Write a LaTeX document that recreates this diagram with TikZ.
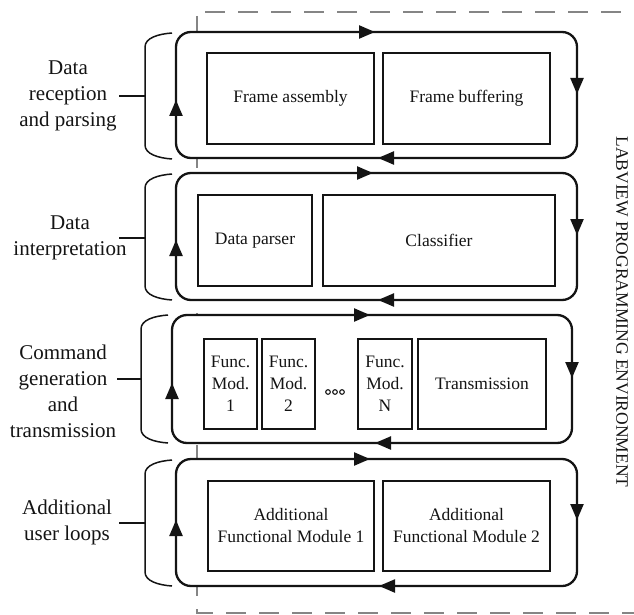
\documentclass[tikz,border=0pt]{standalone}
\usepackage{fontspec}
\setmainfont{Liberation Serif}
\usetikzlibrary{arrows.meta}
\definecolor{ink}{HTML}{141414}
\definecolor{dashgrey}{HTML}{858585}
\tikzset{
  loopbox/.style={draw=ink, line width=2.3pt, fill=white, rounded corners=15pt,
    inner sep=0pt, outer sep=0pt},
  modbox/.style={draw=ink, line width=2.5pt, fill=white, inner sep=0pt,
    outer sep=0pt, text=ink, font=\fontsize{17.5}{22}\selectfont, align=center},
  looparrow/.style={draw=ink, line width=2.3pt, -{Triangle[length=16pt,width=13pt]}},
  bracket/.style={draw=ink, line width=1.5pt},
  sidelabel/.style={text=ink, font=\fontsize{21}{26}\selectfont, align=center, inner sep=0pt},
  envline/.style={draw=dashgrey, line width=2pt, dash pattern=on 20pt off 13pt},
}
\begin{document}
\begin{tikzpicture}[x=1pt, y=-1pt]
\useasboundingbox (0,0) rectangle (634,615);

% programming environment frame (open to the right)
\draw[envline, dash phase=25pt] (197,12) -- (640,12);
\draw[envline, dash phase=29pt] (197,12) -- (197,590);
\draw[envline, dash phase=14pt] (197,590) -- (197,613) -- (640,613);

% the four loops
\node[loopbox, minimum width=401pt, minimum height=126pt] (loopA) at (376.5,95) {};
\node[loopbox, minimum width=401pt, minimum height=127pt] (loopB) at (376.5,236.5) {};
\node[loopbox, minimum width=400pt, minimum height=128pt] (loopC) at (372,379) {};
\node[loopbox, minimum width=401pt, minimum height=127pt] (loopD) at (376.5,522.5) {};

% loop direction arrows (clockwise)
\draw[looparrow] (358,32) -- (375,32);
\draw[looparrow] (577,77) -- (577,94);
\draw[looparrow] (395,158) -- (378,158);
\draw[looparrow] (176,117) -- (176,100);

\draw[looparrow] (356,173) -- (373,173);
\draw[looparrow] (577,218) -- (577,235);
\draw[looparrow] (395,300) -- (378,300);
\draw[looparrow] (176,257) -- (176,240);

\draw[looparrow] (353,315) -- (370,315);
\draw[looparrow] (572,361) -- (572,378);
\draw[looparrow] (392,443) -- (375,443);
\draw[looparrow] (172,400) -- (172,383);

\draw[looparrow] (353,459) -- (370,459);
\draw[looparrow] (577,503) -- (577,520);
\draw[looparrow] (396,586) -- (379,586);
\draw[looparrow] (176,537) -- (176,520);

% modules inside the loops
\node[modbox, minimum width=167pt, minimum height=91pt] (frameasm) at (290.5,98.5) {Frame assembly};
\node[modbox, minimum width=167pt, minimum height=91pt] (framebuf) at (466.5,98.5) {Frame buffering};

\node[modbox, minimum width=114pt, minimum height=91pt] (parser) at (255,240.5) {Data parser};
\node[modbox, minimum width=232pt, minimum height=91pt] (classifier) at (439,240.5) {Classifier};

\node[modbox, minimum width=53pt, minimum height=90pt] (fmone) at (230.5,384) {Func.\\Mod.\\1};
\node[modbox, minimum width=53pt, minimum height=90pt] (fmtwo) at (288.5,384) {Func.\\Mod.\\2};
\node[modbox, minimum width=54pt, minimum height=90pt] (fmn) at (385,384) {Func.\\Mod.\\N};
\node[modbox, minimum width=128pt, minimum height=90pt] (transm) at (482,384) {Transmission};

\node[modbox, minimum width=166pt, minimum height=90pt] (addone) at (291,526) {Additional\\Functional Module 1};
\node[modbox, minimum width=167pt, minimum height=90pt] (addtwo) at (466.5,526) {Additional\\Functional Module 2};

% ellipsis between module 2 and module N
\foreach \cx in {328,335,342}
  \draw[ink, line width=1.1pt] (\cx,392) circle (2.3pt);

% brackets grouping each loop
\draw[bracket] (172,33) .. controls (158,34) and (145,38) .. (145,47) -- (145,145)
  .. controls (145,154) and (158,158) .. (172,159);
\draw[bracket] (172,174) .. controls (158,175) and (145,179) .. (145,188) -- (145,286)
  .. controls (145,295) and (158,299) .. (172,300);
\draw[bracket] (168,315) .. controls (154,316) and (141,320) .. (141,329) -- (141,429)
  .. controls (141,438) and (154,442) .. (168,443);
\draw[bracket] (172,460) .. controls (158,461) and (145,465) .. (145,474) -- (145,572)
  .. controls (145,581) and (158,585) .. (172,586);

\coordinate (tipA) at (145,96);
\coordinate (tipB) at (145,238);
\coordinate (tipC) at (141,379);
\coordinate (tipD) at (145,523);
\draw[bracket] (tipA) -- ++(-26,0);
\draw[bracket] (tipB) -- ++(-26,0);
\draw[bracket] (tipC) -- ++(-24,0);
\draw[bracket] (tipD) -- ++(-26,0);

% stage labels
\node[sidelabel] (labA) at (68,96) {Data\\reception\\and parsing};
\node[sidelabel] (labB) at (70,238) {Data\\interpretation};
\node[sidelabel] (labC) at (63,391) {Command\\generation\\and\\transmission};
\node[sidelabel] (labD) at (67,522) {Additional\\user loops};

% environment caption
\node[text=ink, font=\fontsize{17.5}{20}\selectfont, rotate=-90, inner sep=0pt]
  (envlabel) at (622,312) {LABVIEW PROGRAMMING ENVIRONMENT};
\end{tikzpicture}
\end{document}
